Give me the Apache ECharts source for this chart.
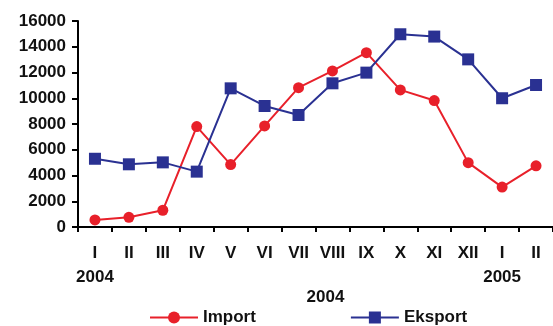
<!DOCTYPE html>
<html>
<head>
<meta charset="utf-8">
<script src="https://cdn.jsdelivr.net/npm/echarts@6/dist/echarts.min.js"></script>
<style>
html,body{margin:0;padding:0;background:#fff;}
#main{width:553px;height:326px;}
</style>
</head>
<body>
<div id="main"></div>
<script>
var categories = ['I\n2004','II','III','IV','V','VI','VII','VIII','IX','X','XI','XII','I\n2005','II'];
var importValues = [550, 750, 1300, 7800, 4850, 7850, 10820, 12120, 13540, 10650, 9820, 5000, 3100, 4750];
var eksportValues = [5300, 4870, 5020, 4300, 10770, 9400, 8700, 11160, 11990, 14970, 14790, 13020, 10000, 11030];
var yTicks = [0, 2000, 4000, 6000, 8000, 10000, 12000, 14000, 16000];
var axisTitle = '2004';

var font = '"Liberation Sans", Arial, sans-serif';
var chart = echarts.init(document.getElementById('main'));
chart.setOption({
  animation: false,
  grid: {left: 78, right: 0, top: 21, bottom: 99},
  legend: {
    data: ['Import', 'Eksport'],
    bottom: -5,
    left: 144,
    itemGap: 94,
    itemWidth: 48,
    itemHeight: 15,
    textStyle: {fontFamily: font, fontWeight: 'bold', fontSize: 17, color: '#111'}
  },
  xAxis: {
    type: 'category',
    data: categories,
    boundaryGap: true,
    name: axisTitle,
    nameLocation: 'middle',
    nameGap: 62,
    nameMoveOverlap: false,
    nameTextStyle: {fontFamily: font, fontWeight: 'bold', fontSize: 17, color: '#111', padding: [0, 0, 0, 20]},
    axisLine: {lineStyle: {color: '#000', width: 2}},
    axisTick: {show: true, length: 5, lineStyle: {color: '#000', width: 2}},
    axisLabel: {interval: 0, fontFamily: font, fontWeight: 'bold', fontSize: 17, color: '#111', margin: 14, lineHeight: 24}
  },
  yAxis: {
    type: 'value',
    min: yTicks[0],
    max: yTicks[yTicks.length - 1],
    interval: 2000,
    axisLine: {show: true, lineStyle: {color: '#000', width: 2}},
    axisTick: {show: true, length: 6, lineStyle: {color: '#000', width: 2}},
    splitLine: {show: false},
    axisLabel: {
      fontFamily: font, fontWeight: 'bold', fontSize: 17, color: '#111', margin: 12,
      formatter: function (v) { return String(v); }
    }
  },
  series: [
    {
      name: 'Import',
      type: 'line',
      data: importValues,
      symbol: 'circle',
      symbolSize: 11,
      lineStyle: {color: '#e8202a', width: 2},
      itemStyle: {color: '#e8202a'}
    },
    {
      name: 'Eksport',
      type: 'line',
      data: eksportValues,
      symbol: 'rect',
      symbolSize: 12,
      lineStyle: {color: '#2a3192', width: 2},
      itemStyle: {color: '#2a3192'}
    }
  ]
});
</script>
</body>
</html>
